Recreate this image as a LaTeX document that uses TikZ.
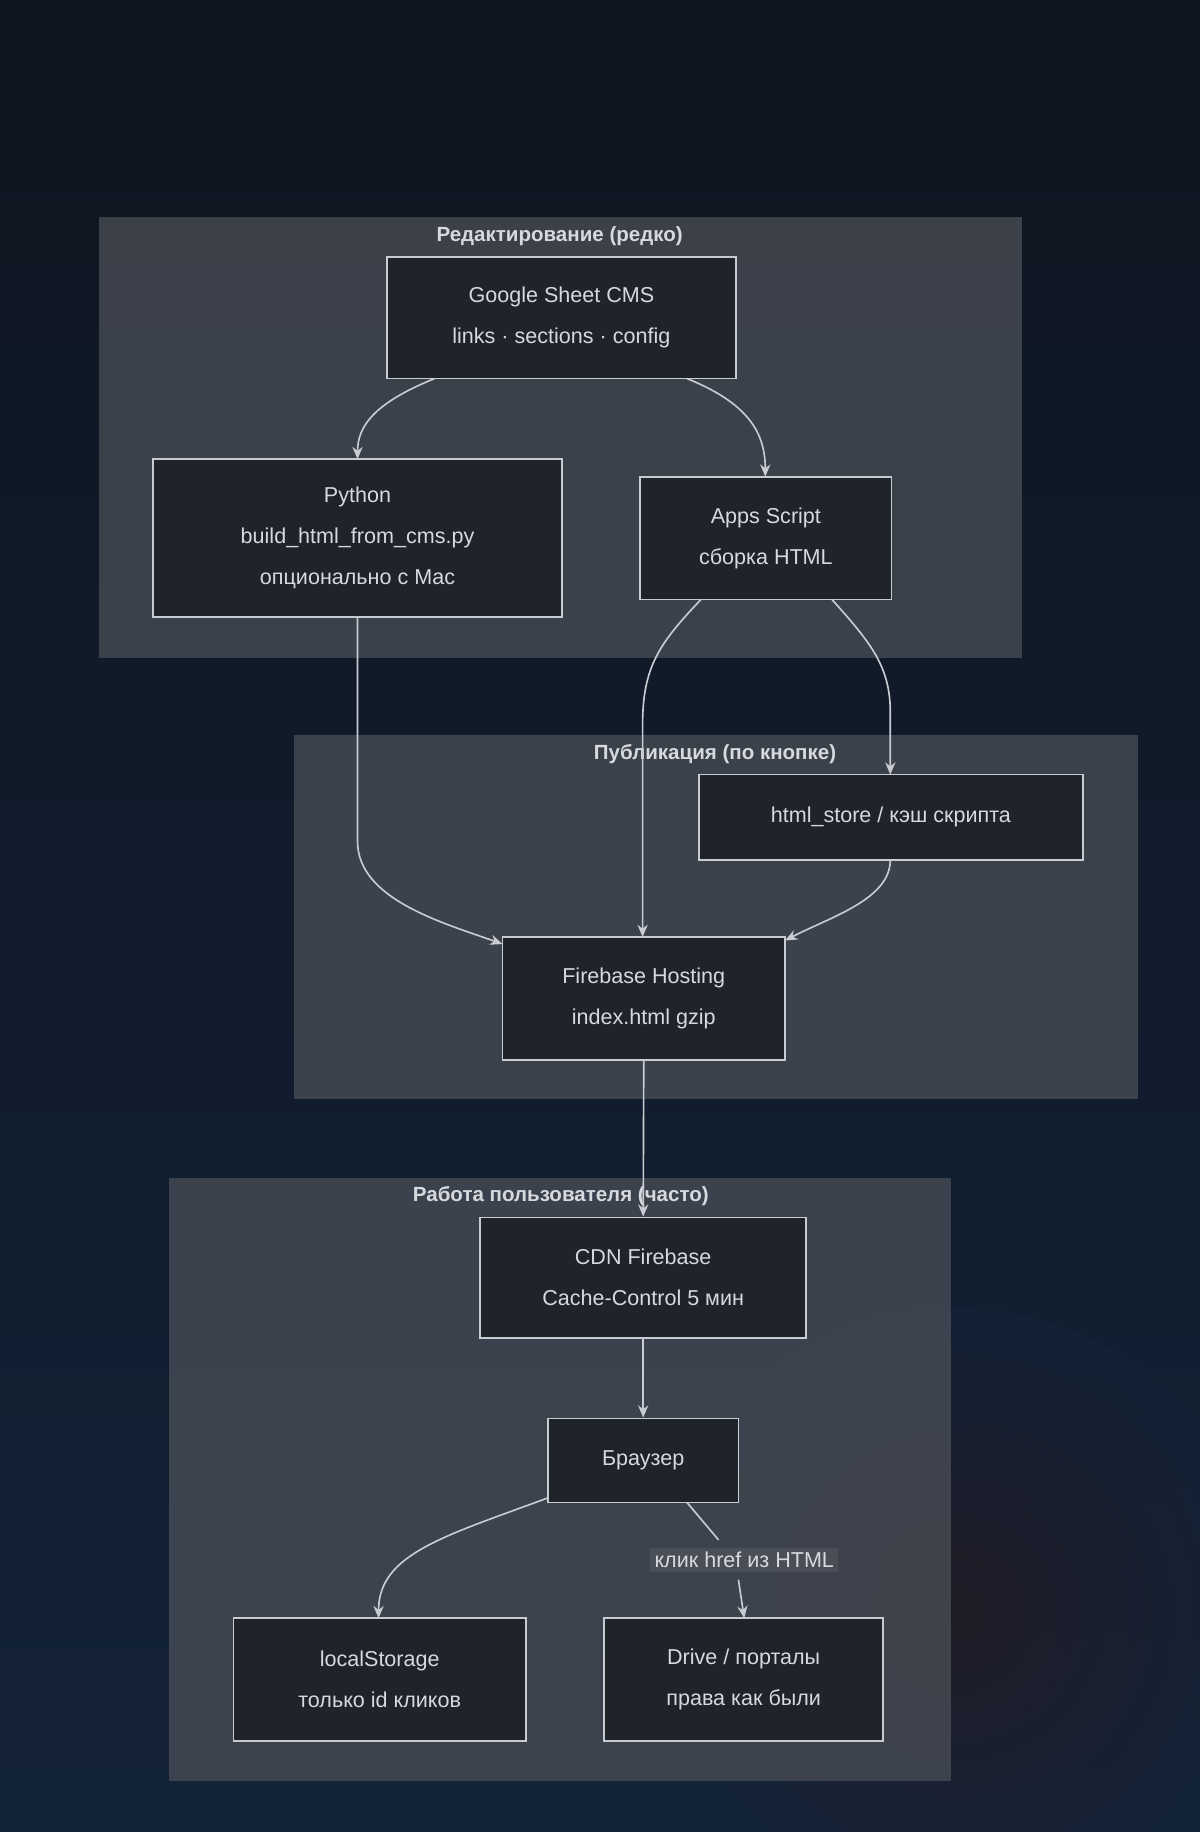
\documentclass[tikz,border=0pt]{standalone}
\usepackage{fontspec}
\setmainfont{Liberation Sans}
\usetikzlibrary{arrows.meta}
\definecolor{bgA}{HTML}{0E1520}
\definecolor{bgB}{HTML}{132338}
\definecolor{bgC}{HTML}{2A1A1E}
\definecolor{clus}{HTML}{4A4F57}
\definecolor{nodef}{HTML}{1F232A}
\definecolor{edge}{HTML}{C8CCD2}
\definecolor{txt}{HTML}{D6D9DE}
\begin{document}
\begin{tikzpicture}[x=0.02cm,y=-0.02cm,
  box/.style={draw=edge,line width=0.8pt,fill=nodef,text=txt,align=center,font=\fontsize{10.5}{20}\selectfont,inner sep=0pt},
  clusterbox/.style={fill=clus,fill opacity=0.75,draw=none},
  ctitle/.style={text=txt,font=\bfseries\fontsize{10}{12}\selectfont},
  arr/.style={draw=edge,line width=0.8pt,-{Stealth[length=6pt,width=5pt]}}]
\useasboundingbox (0,0) rectangle (1027,1568);
\shade[bottom color=bgB,top color=bgA] (0,0) rectangle (1027,1568);
\shade[inner color=bgC,outer color=bgB,opacity=0.6] (820,1380) circle (260);
% clusters
\fill[clusterbox] (85,186) rectangle (875,563);
\fill[clusterbox] (252,629) rectangle (974,941);
\fill[clusterbox] (145,1008) rectangle (814,1524);
\node[ctitle] (t1) at (479,202) {Редактирование (редко)};
\node[ctitle] (t2) at (612,645) {Публикация (по кнопке)};
\node[ctitle] (t3) at (480,1024) {Работа пользователя (часто)};
% nodes
\node[box,minimum width=299*0.02cm,minimum height=104*0.02cm] (gs) at (480.5,272) {Google Sheet CMS\\links · sections · config};
\node[box,minimum width=350*0.02cm,minimum height=135*0.02cm] (py) at (306,460.5) {Python\\build\_html\_from\_cms.py\\опционально с Mac};
\node[box,minimum width=215*0.02cm,minimum height=105*0.02cm] (as) at (655.5,460.5) {Apps Script\\сборка HTML};
\node[box,minimum width=329*0.02cm,minimum height=73*0.02cm] (hs) at (762.5,699.5) {html\_store / кэш скрипта};
\node[box,minimum width=242*0.02cm,minimum height=105*0.02cm] (fb) at (551,854.5) {Firebase Hosting\\index.html gzip};
\node[box,minimum width=279*0.02cm,minimum height=103*0.02cm] (cdn) at (550.5,1093.5) {CDN Firebase\\Cache-Control 5 мин};
\node[box,minimum width=163*0.02cm,minimum height=72*0.02cm] (br) at (550.5,1250) {Браузер};
\node[box,minimum width=250*0.02cm,minimum height=105*0.02cm] (ls) at (325,1437.5) {localStorage\\только id кликов};
\node[box,minimum width=239*0.02cm,minimum height=105*0.02cm] (dr) at (636.5,1437.5) {Drive / порталы\\права как были};
% edges
\draw[arr] (372,324) .. controls (320,345) and (306,365) .. (306,393);
\draw[arr] (588,324) .. controls (640,345) and (655,370) .. (655,408);
\draw[arr] (306,528) -- (306,720) .. controls (306,770) and (380,790) .. (430,808);
\draw[arr] (600,513) .. controls (565,550) and (550,570) .. (550,620) -- (550,802);
\draw[arr] (712,513) .. controls (745,550) and (762,570) .. (762,610) -- (762,663);
\draw[arr] (762,736) .. controls (762,770) and (710,785) .. (672,805);
\draw[arr] (fb.south) -- (cdn.north);
\draw[arr] (cdn.south) -- (br.north);
\draw[arr] (469,1282) .. controls (380,1315) and (324,1330) .. (324,1385);
\draw[line width=0.8pt,draw=edge] (588,1286) -- (615,1318);
\node[fill=clus,text=txt,font=\fontsize{10.5}{12}\selectfont,inner sep=2pt] (lbl) at (637,1335) {клик href из HTML};
\draw[arr] (632,1352) -- (637,1385);
\end{tikzpicture}
\end{document}
